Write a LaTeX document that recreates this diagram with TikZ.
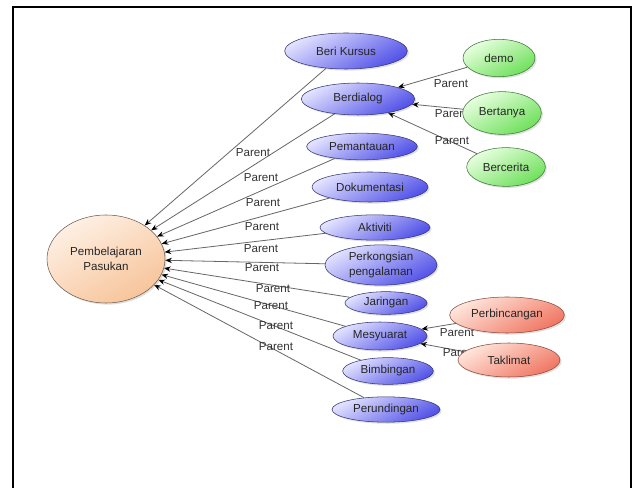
\documentclass[tikz,border=0pt]{standalone}
\usepackage{fontspec}
\setmainfont{Liberation Sans}
\usepackage{xcolor}
\usepackage{tikz}
\usetikzlibrary{shapes}
\usetikzlibrary{arrows.meta}
\usetikzlibrary{shadows}
\usetikzlibrary{backgrounds}

\definecolor{roottop}{RGB}{254,240,228}
\definecolor{rootbot}{RGB}{247,196,154}
\definecolor{rootedge}{RGB}{110,92,80}
\definecolor{bluetop}{RGB}{226,226,255}
\definecolor{bluebot}{RGB}{82,82,232}
\definecolor{blueedge}{RGB}{52,52,112}
\definecolor{greentop}{RGB}{232,255,224}
\definecolor{greenbot}{RGB}{110,224,90}
\definecolor{greenedge}{RGB}{62,118,58}
\definecolor{redtop}{RGB}{255,230,220}
\definecolor{redbot}{RGB}{240,118,98}
\definecolor{rededge}{RGB}{138,72,62}

\tikzset{
  base node/.style={ellipse,draw,inner sep=1pt,align=center,text=black!85,
    font=\fontsize{8.7}{11.25}\selectfont,
    drop shadow={opacity=0.25,shadow xshift=1.2pt,shadow yshift=-1.2pt}},
  root node/.style={base node,draw=rootedge,top color=roottop,bottom color=rootbot,shading angle=30},
  main node/.style={base node,draw=blueedge,top color=bluetop,bottom color=bluebot,shading angle=30},
  green node/.style={base node,draw=greenedge,top color=greentop,bottom color=greenbot,shading angle=30},
  red node/.style={base node,draw=rededge,top color=redtop,bottom color=redbot,shading angle=30},
  rel label/.style={font=\fontsize{8.7}{10}\selectfont,text=black!80,inner sep=0pt}
}

\begin{document}
\begin{tikzpicture}[x=0.75pt,y=-0.75pt,>={Stealth[black,length=5pt,width=4pt]},
  rel/.style={->,draw=black!60,line width=0.6pt}]
		\useasboundingbox (0,0) rectangle (636,488);
		\draw[line width=1.5pt] (13,488) -- (13,7) -- (631,7) -- (631,488);

		    \node[root node,minimum width=88.5pt,minimum height=66pt] (1) at (106,259) {Pembelajaran\\Pasukan};

		    \node[main node,minimum width=92pt,minimum height=27pt] (2) at (346,51) {Beri Kursus};
		    \node[main node,minimum width=85pt,minimum height=24pt] (3) at (358,99) {Berdialog};
		    \node[main node,minimum width=83pt,minimum height=20pt] (4) at (362,146.5) {Pemantauan};
		    \node[main node,minimum width=87pt,minimum height=22.5pt] (5) at (370,187) {Dokumentasi};
		    \node[main node,minimum width=82.5pt,minimum height=19pt] (6) at (375,227.5) {Aktiviti};
		    \node[main node,minimum width=84pt,minimum height=27pt] (7) at (381,265) {Perkongsian\\pengalaman};
		    \node[main node,minimum width=61.5pt,minimum height=17pt] (8) at (386,303) {Jaringan};
		    \node[main node,minimum width=70.5pt,minimum height=21pt] (9) at (380,336) {Mesyuarat};
		    \node[main node,minimum width=68pt,minimum height=20pt] (10) at (388,371) {Bimbingan};
		    \node[main node,minimum width=81pt,minimum height=19pt] (11) at (386,409.5) {Perundingan};

		    \node[green node,minimum width=54pt,minimum height=28pt] (12) at (499,58) {demo};
		    \node[green node,minimum width=59pt,minimum height=32pt] (13) at (502,113) {Bertanya};
		    \node[green node,minimum width=59pt,minimum height=29pt] (14) at (506,167) {Bercerita};

		    \node[red node,minimum width=86pt,minimum height=27pt] (15) at (507,315) {Perbincangan};
		    \node[red node,minimum width=76.5pt,minimum height=25.5pt] (16) at (509,360) {Taklimat};

		\begin{pgfonlayer}{background}
		    \fill[white] (0,0) rectangle (636,488);
		    \draw[rel] (2) -- (1) node[rel label] at (253,153) {Parent};
		    \draw[rel] (3) -- (1) node[rel label] at (261,178) {Parent};
		    \draw[rel] (4) -- (1) node[rel label] at (263,203) {Parent};
		    \draw[rel] (5) -- (1) node[rel label] at (262,227) {Parent};
		    \draw[rel] (6) -- (1) node[rel label] at (261,249) {Parent};
		    \draw[rel] (7) -- (1) node[rel label] at (262,268) {Parent};
		    \draw[rel] (8) -- (1) node[rel label] at (273,289) {Parent};
		    \draw[rel] (9) -- (1) node[rel label] at (271,306) {Parent};
		    \draw[rel] (10) -- (1) node[rel label] at (276,326) {Parent};
		    \draw[rel] (11) -- (1) node[rel label] at (276,347) {Parent};
		    \draw[rel] (12) -- (3) node[rel label] at (451,84) {Parent};
		    \draw[rel] (13) -- (3) node[rel label] at (452,114) {Parent};
		    \draw[rel] (14) -- (3) node[rel label] at (452,141) {Parent};
		    \draw[rel] (15) -- (9) node[rel label] at (457,333) {Parent};
		    \draw[rel] (16) -- (9) node[rel label] at (460,353) {Parent};
		\end{pgfonlayer}
\end{tikzpicture}
\end{document}
